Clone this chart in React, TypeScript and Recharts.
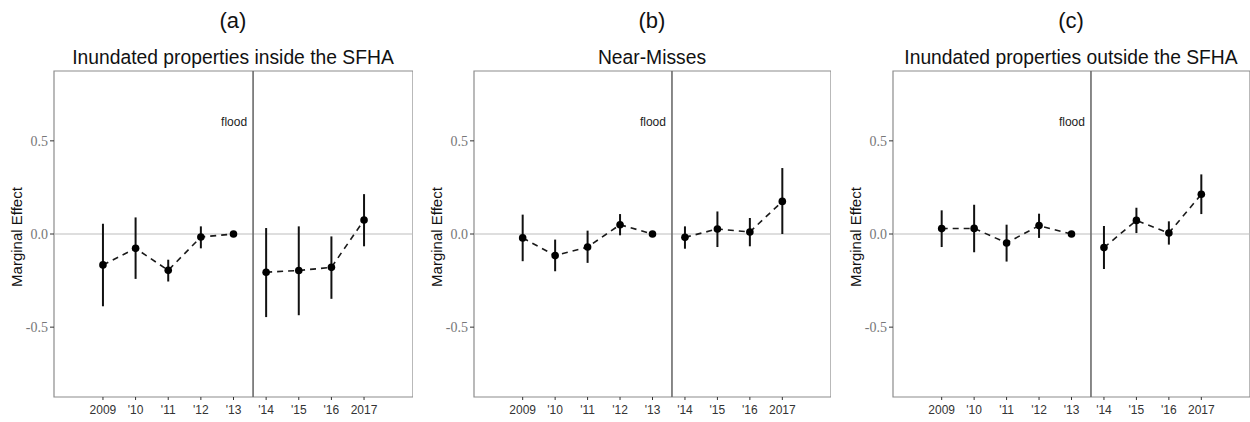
import React from "react"
import {
  ComposedChart,
  Line,
  ErrorBar,
  XAxis,
  YAxis,
  ReferenceLine,
  ReferenceArea,
  ReferenceDot
} from "recharts"

// tick labels for the nine years
const years = ["2009", "'10", "'11", "'12", "'13", "'14", "'15", "'16", "2017"]

// (a) inundated inside SFHA
const insideEst = [-0.166, -0.077, -0.195, -0.016, 0, -0.205, -0.196, -0.179, 0.075]
const insideLo = [-0.388, -0.241, -0.255, -0.077, 0, -0.446, -0.436, -0.348, -0.066]
const insideHi = [0.055, 0.089, -0.138, 0.041, 0, 0.032, 0.041, -0.013, 0.214]

// (b) near-misses
const nearEst = [-0.021, -0.116, -0.07, 0.05, 0, -0.018, 0.027, 0.011, 0.175]
const nearLo = [-0.146, -0.2, -0.155, -0.007, 0, -0.079, -0.07, -0.066, 0.0]
const nearHi = [0.104, -0.03, 0.018, 0.107, 0, 0.041, 0.121, 0.086, 0.354]

// (c) inundated outside SFHA
const outsideEst = [0.029, 0.03, -0.048, 0.045, 0, -0.073, 0.073, 0.005, 0.213]
const outsideLo = [-0.07, -0.098, -0.148, -0.021, 0, -0.188, 0.005, -0.057, 0.107]
const outsideHi = [0.127, 0.157, 0.05, 0.109, 0, 0.043, 0.141, 0.068, 0.32]

const yTicks = [-0.5, 0, 0.5]
const xTicks = [1, 2, 3, 4, 5, 6, 7, 8, 9]
const floodX = 5.6
const yDom: [number, number] = [-0.875, 0.875]
const xDom: [number, number] = [-0.5, 10.5]

const sans = "'Liberation Sans', Arial, sans-serif"
const serif = "'Liberation Serif', 'Times New Roman', serif"

function Panel({ est, lo, hi, left, width }: { est: number[]; lo: number[]; hi: number[]; left: number; width: number }) {
  const pts = years.map((_, i) => ({
    x: i + 1,
    y: est[i],
    err: [est[i] - lo[i], hi[i] - est[i]]
  }))
  const pre = pts.slice(0, 5)
  const post = pts.slice(5)

  const lineProps = {
    dataKey: "y",
    stroke: "#1a1a1a",
    strokeWidth: 1.6,
    strokeDasharray: "6 5",
    dot: { r: 3.8, fill: "#000", stroke: "#000", strokeWidth: 0 },
    activeDot: false as const,
    isAnimationActive: false
  }

  return (
    <div style={{ position: "absolute", left, top: 0 }}>
      <ComposedChart width={width} height={422} margin={{ top: 71, right: 0, bottom: 0, left: 20 }}>
        <XAxis
          dataKey="x"
          type="number"
          domain={xDom}
          ticks={xTicks}
          allowDataOverflow
          tickFormatter={(v: number) => years[v - 1]}
          height={25}
          axisLine={false}
          tickSize={3}
          tickMargin={5}
          tickLine={{ stroke: "#333" }}
          tick={{ fill: "#333", fontSize: 12, fontFamily: sans }}
        />
        <YAxis
          type="number"
          domain={yDom}
          ticks={yTicks}
          allowDataOverflow
          tickFormatter={(v: number) => v.toFixed(1)}
          width={34}
          axisLine={false}
          tickSize={4}
          tickMargin={2}
          tickLine={{ stroke: "#333" }}
          tick={{ fill: "#777", fontSize: 14, fontFamily: serif }}
        />
        <ReferenceArea x1={xDom[0]} x2={xDom[1]} y1={yDom[0]} y2={yDom[1]} fill="none" fillOpacity={0} stroke="#8c8c8c" strokeWidth={1.2} />
        <ReferenceLine y={0} stroke="#bdbdbd" strokeWidth={1} />
        <ReferenceLine x={floodX} stroke="#6b6b6b" strokeWidth={1.6} />
        <ReferenceDot
          x={floodX}
          y={0.6}
          r={2}
          fill="none"
          stroke="none"
          label={{ value: "flood", position: "left", offset: 4, fill: "#222", fontSize: 12, fontFamily: sans }}
        />
        <Line data={pre} {...lineProps}>
          <ErrorBar dataKey="err" width={0} stroke="#111" strokeWidth={2} direction="y" />
        </Line>
        <Line data={post} {...lineProps}>
          <ErrorBar dataKey="err" width={0} stroke="#111" strokeWidth={2} direction="y" />
        </Line>
      </ComposedChart>
    </div>
  )
}

export default function App() {
  return (
    <div style={{ position: "absolute", left: 0, top: 0, width: 1250, height: 422, background: "#fff", overflow: "hidden" }}>
      <Panel est={insideEst} lo={insideLo} hi={insideHi} left={0} width={413} />
      <Panel est={nearEst} lo={nearLo} hi={nearHi} left={420} width={411} />
      <Panel est={outsideEst} lo={outsideLo} hi={outsideHi} left={839} width={411} />
      <svg width={1250} height={422} style={{ position: "absolute", left: 0, top: 0, pointerEvents: "none" }}>
        <g fontFamily={sans} fill="#111">
          <text x={233} y={28} fontSize={22} textAnchor="middle">(a)</text>
          <text x={652} y={28} fontSize={22} textAnchor="middle">(b)</text>
          <text x={1071} y={28} fontSize={22} textAnchor="middle">(c)</text>
          <text x={233} y={64} fontSize={19.3} textAnchor="middle">Inundated properties inside the SFHA</text>
          <text x={652} y={64} fontSize={19.3} textAnchor="middle">Near-Misses</text>
          <text x={1071} y={64} fontSize={19.3} textAnchor="middle">Inundated properties outside the SFHA</text>
          <text transform="translate(22,237) rotate(-90)" fontSize={15} textAnchor="middle">Marginal Effect</text>
          <text transform="translate(442,237) rotate(-90)" fontSize={15} textAnchor="middle">Marginal Effect</text>
          <text transform="translate(861,237) rotate(-90)" fontSize={15} textAnchor="middle">Marginal Effect</text>
        </g>
      </svg>
    </div>
  )
}
